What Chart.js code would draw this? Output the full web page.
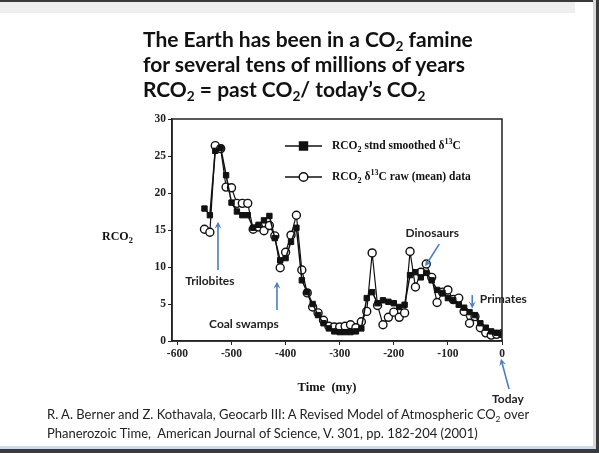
<!DOCTYPE html>
<html>
<head>
<meta charset="utf-8">
<script src="https://cdn.jsdelivr.net/npm/chart.js@4"></script>
<style>
  html, body { margin: 0; padding: 0; background: #fff; }
  #wrap { position: relative; width: 599px; height: 453px; overflow: hidden; }
  #c { position: absolute; left: 0; top: 0; }
  .bar { position: absolute; }
  #title { position: absolute; left: 143px; top: 26px; font: bold 21px Lato, sans-serif;
           line-height: 25px; color: #111; white-space: nowrap; }
  #cite { position: absolute; left: 47px; top: 405px; font: 13px Lato, sans-serif;
          line-height: 19px; color: #222; white-space: nowrap; }
  sub { font-size: 65%; vertical-align: -0.3em; line-height: 0; }
</style>
</head>
<body>
<div id="wrap">
  <div class="bar" style="left:0;top:0;width:599px;height:2px;background:#3a3a3a"></div>
  <div class="bar" style="left:0;top:2px;width:575px;height:11px;background:#eeeeee"></div>
  <div class="bar" style="left:593px;top:0;width:3px;height:453px;background:#d8d8d8"></div>
  <div class="bar" style="left:596px;top:0;width:3px;height:453px;background:#3a3a3a"></div>
  <div class="bar" style="left:0;top:446px;width:596px;height:3px;background:#c9dcef"></div>
  <div class="bar" style="left:0;top:449px;width:599px;height:4px;background:#3a3a3a"></div>
  <canvas id="c" width="599" height="453"></canvas>
  <div id="title">The Earth has been in a CO<sub>2</sub> famine<br>for several tens of millions of years<br>RCO<sub>2</sub> = past CO<sub>2</sub>/ today’s CO<sub>2</sub></div>
  <div id="cite">R. A. Berner and Z. Kothavala, Geocarb III: A Revised Model of Atmospheric CO<sub>2</sub> over<br>Phanerozoic Time,&nbsp; American Journal of Science, V. 301, pp. 182-204 (2001)</div>
</div>
<script>
// time in millions of years (negative = past)
var timeMy = [-550, -540, -530, -520, -510, -500, -490, -480, -470, -460,
              -450, -440, -430, -420, -410, -400, -390, -380, -370, -360,
              -350, -340, -330, -320, -310, -300, -290, -280, -270, -260,
              -250, -240, -230, -220, -210, -200, -190, -180, -170, -160,
              -150, -140, -130, -120, -110, -100, -90, -80, -70, -60,
              -50, -40, -30, -20, -10, 0];
// RCO2 standard smoothed d13C
var rco2Smooth = [17.9, 17.0, 25.7, 26.1, 22.4, 18.7, 17.5, 17.0, 17.0, 15.3,
                  15.7, 16.3, 16.9, 13.9, 10.9, 11.2, 13.4, 15.3, 8.2, 6.6,
                  5.0, 3.5, 2.4, 1.7, 1.3, 1.2, 1.2, 1.2, 1.3, 1.7,
                  5.8, 6.6, 5.1, 5.5, 5.3, 5.1, 4.6, 4.9, 8.9, 9.3,
                  8.6, 9.2, 8.2, 6.9, 6.5, 5.8, 5.5, 4.9, 4.5, 3.9,
                  3.5, 2.4, 1.8, 1.3, 1.1, 1.0];
// RCO2 d13C raw (mean) data
var rco2Raw = [15.1, 14.7, 26.4, 26.0, 20.8, 20.7, 18.6, 18.6, 18.6, 15.1,
               15.4, 14.9, 15.6, 14.2, 9.9, 12.0, 14.3, 17.0, 9.6, 6.5,
               4.6, 3.8, 2.8, 2.0, 1.9, 1.9, 2.0, 2.2, 1.8, 2.6,
               4.0, 11.9, 4.8, 2.2, 3.2, 3.9, 3.2, 3.8, 12.1, 7.3,
               9.3, 10.4, 8.6, 5.2, 6.6, 6.9, 5.6, 5.8, 4.0, 2.4,
               3.3, 1.8, 1.1, 0.8, 0.9, 1.0];
var xTicks = [-600, -500, -400, -300, -200, -100, 0];
var yTicks = [0, 5, 10, 15, 20, 25, 30];

// labels with arrows, in data units (time, RCO2)
var notes = [
  { text: 'Trilobites',  at: [-540, 8.1],  align: 'center', from: [-525, 9.6],  to: [-525, 16.1] },
  { text: 'Coal swamps', at: [-477, 2.3],  align: 'center', from: [-416, 4.2],  to: [-416, 8.0] },
  { text: 'Dinosaurs',   at: [-129, 14.6], align: 'center', from: [-116, 13.1], to: [-142, 10.1] },
  { text: 'Primates',    at: [-41, 5.6],   align: 'left',   from: [-55, 6.2],   to: [-55, 4.4] },
  { text: 'Today',       at: [11, -7.8],   align: 'center', from: [13, -6.5],   to: [-2, -2.4] }
];

var serif = '"Liberation Serif", "DejaVu Serif", serif';
var arrowBlue = '#4a7ebd';

function pts(ys) {
  return timeMy.map(function (t, i) { return { x: t, y: ys[i] }; });
}

// draws text made of parts: s = 0 normal, -1 subscript, 1 superscript
function richText(ctx, parts, x, y, size) {
  ctx.textAlign = 'left';
  ctx.textBaseline = 'middle';
  parts.forEach(function (p) {
    var sz = p.s ? size * 0.7 : size;
    ctx.font = 'bold ' + sz + 'px ' + serif;
    var dy = p.s < 0 ? size * 0.3 : (p.s > 0 ? -size * 0.35 : 0);
    ctx.fillText(p.t, x, y + dy);
    x += ctx.measureText(p.t).width;
  });
}

function arrow(ctx, x1, y1, x2, y2) {
  var a = Math.atan2(y2 - y1, x2 - x1), L = 7, W = 3.5;
  ctx.strokeStyle = arrowBlue;
  ctx.fillStyle = arrowBlue;
  ctx.lineWidth = 1.6;
  ctx.beginPath();
  ctx.moveTo(x1, y1);
  ctx.lineTo(x2 - Math.cos(a) * L * 0.6, y2 - Math.sin(a) * L * 0.6);
  ctx.stroke();
  ctx.beginPath();
  ctx.moveTo(x2, y2);
  ctx.lineTo(x2 - Math.cos(a) * L + Math.sin(a) * W, y2 - Math.sin(a) * L - Math.cos(a) * W);
  ctx.lineTo(x2 - Math.cos(a) * L * 0.6, y2 - Math.sin(a) * L * 0.6);
  ctx.lineTo(x2 - Math.cos(a) * L - Math.sin(a) * W, y2 - Math.sin(a) * L + Math.cos(a) * W);
  ctx.closePath();
  ctx.fill();
}

var extras = {
  id: 'extras',
  afterDraw: function (chart) {
    var ctx = chart.ctx, ca = chart.chartArea;
    var xs = chart.scales.x, ys = chart.scales.y;
    ctx.save();
    // frame
    ctx.strokeStyle = '#222';
    ctx.lineWidth = 1.5;
    ctx.strokeRect(ca.left, ca.top, ca.right - ca.left, ca.bottom - ca.top);

    // axis titles
    ctx.fillStyle = '#111';
    richText(ctx, [{ t: 'RCO', s: 0 }, { t: '2', s: -1 }], 102, 237, 12);
    ctx.font = 'bold 12.5px ' + serif;
    ctx.textAlign = 'center';
    ctx.fillText('Time  (my)', 327, 388);

    // legend
    var sets = chart.data.datasets;
    var rows = [
      { ds: sets[0], y: 146, parts: [{ t: 'RCO', s: 0 }, { t: '2', s: -1 }, { t: ' stnd smoothed δ', s: 0 }, { t: '13', s: 1 }, { t: 'C', s: 0 }] },
      { ds: sets[1], y: 177, parts: [{ t: 'RCO', s: 0 }, { t: '2', s: -1 }, { t: ' δ', s: 0 }, { t: '13', s: 1 }, { t: 'C raw (mean) data', s: 0 }] }
    ];
    rows.forEach(function (r) {
      ctx.strokeStyle = '#111';
      ctx.lineWidth = 1.4;
      ctx.beginPath();
      ctx.moveTo(285, r.y);
      ctx.lineTo(322, r.y);
      ctx.stroke();
      ctx.fillStyle = r.ds.pointBackgroundColor;
      ctx.strokeStyle = '#111';
      ctx.beginPath();
      if (r.ds.pointStyle === 'rect') {
        ctx.rect(299.5, r.y - 4, 8, 8);
      } else {
        ctx.arc(303.5, r.y, 4.3, 0, Math.PI * 2);
      }
      ctx.fill();
      ctx.stroke();
      ctx.fillStyle = '#111';
      richText(ctx, r.parts, 332, r.y, 11.5);
    });

    // annotations
    notes.forEach(function (n) {
      arrow(ctx, xs.getPixelForValue(n.from[0]), ys.getPixelForValue(n.from[1]),
            xs.getPixelForValue(n.to[0]), ys.getPixelForValue(n.to[1]));
      ctx.fillStyle = '#222';
      ctx.font = 'bold 12px Lato, sans-serif';
      ctx.textAlign = n.align;
      ctx.textBaseline = 'middle';
      ctx.fillText(n.text, xs.getPixelForValue(n.at[0]), ys.getPixelForValue(n.at[1]));
    });
    ctx.restore();
  }
};

var ctx = document.getElementById('c').getContext('2d');
var chart = new Chart(ctx, {
  type: 'line',
  data: {
    datasets: [{
      label: 'RCO2 stnd smoothed d13C',
      data: pts(rco2Smooth),
      borderColor: '#111',
      borderWidth: 1.5,
      pointStyle: 'rect',
      pointRadius: 3.8,
      pointBackgroundColor: '#111',
      pointBorderColor: '#111',
      pointBorderWidth: 1,
      order: 0
    }, {
      label: 'RCO2 d13C raw (mean) data',
      data: pts(rco2Raw),
      borderColor: '#111',
      borderWidth: 1.2,
      pointStyle: 'circle',
      pointRadius: 4,
      pointBackgroundColor: '#fff',
      pointBorderColor: '#111',
      pointBorderWidth: 1.4,
      order: 1
    }]
  },
  options: {
    responsive: false,
    animation: false,
    layout: { padding: { left: 0, top: 119, right: 97, bottom: 0 } },
    plugins: { legend: { display: false }, tooltip: { enabled: false } },
    elements: { line: { tension: 0 } },
    scales: {
      x: {
        type: 'linear',
        min: -610,
        max: 0,
        afterFit: function (s) { s.height = 112; },
        afterBuildTicks: function (s) { s.ticks = xTicks.map(function (v) { return { value: v }; }); },
        grid: { display: true, drawOnChartArea: false, drawTicks: true, tickLength: 4, color: '#222' },
        border: { display: true, color: '#222', width: 1.5 },
        ticks: { color: '#222', padding: 2, maxRotation: 0, font: { family: serif, size: 11.5, weight: 'bold' } }
      },
      y: {
        min: 0,
        max: 30,
        afterFit: function (s) { s.width = 172; },
        afterBuildTicks: function (s) { s.ticks = yTicks.map(function (v) { return { value: v }; }); },
        grid: { display: true, drawOnChartArea: false, drawTicks: true, tickLength: 4, color: '#222' },
        border: { display: true, color: '#222', width: 1.5 },
        ticks: { color: '#222', padding: 2, font: { family: serif, size: 11.5, weight: 'bold' } }
      }
    }
  },
  plugins: [extras]
});
</script>
</body>
</html>
